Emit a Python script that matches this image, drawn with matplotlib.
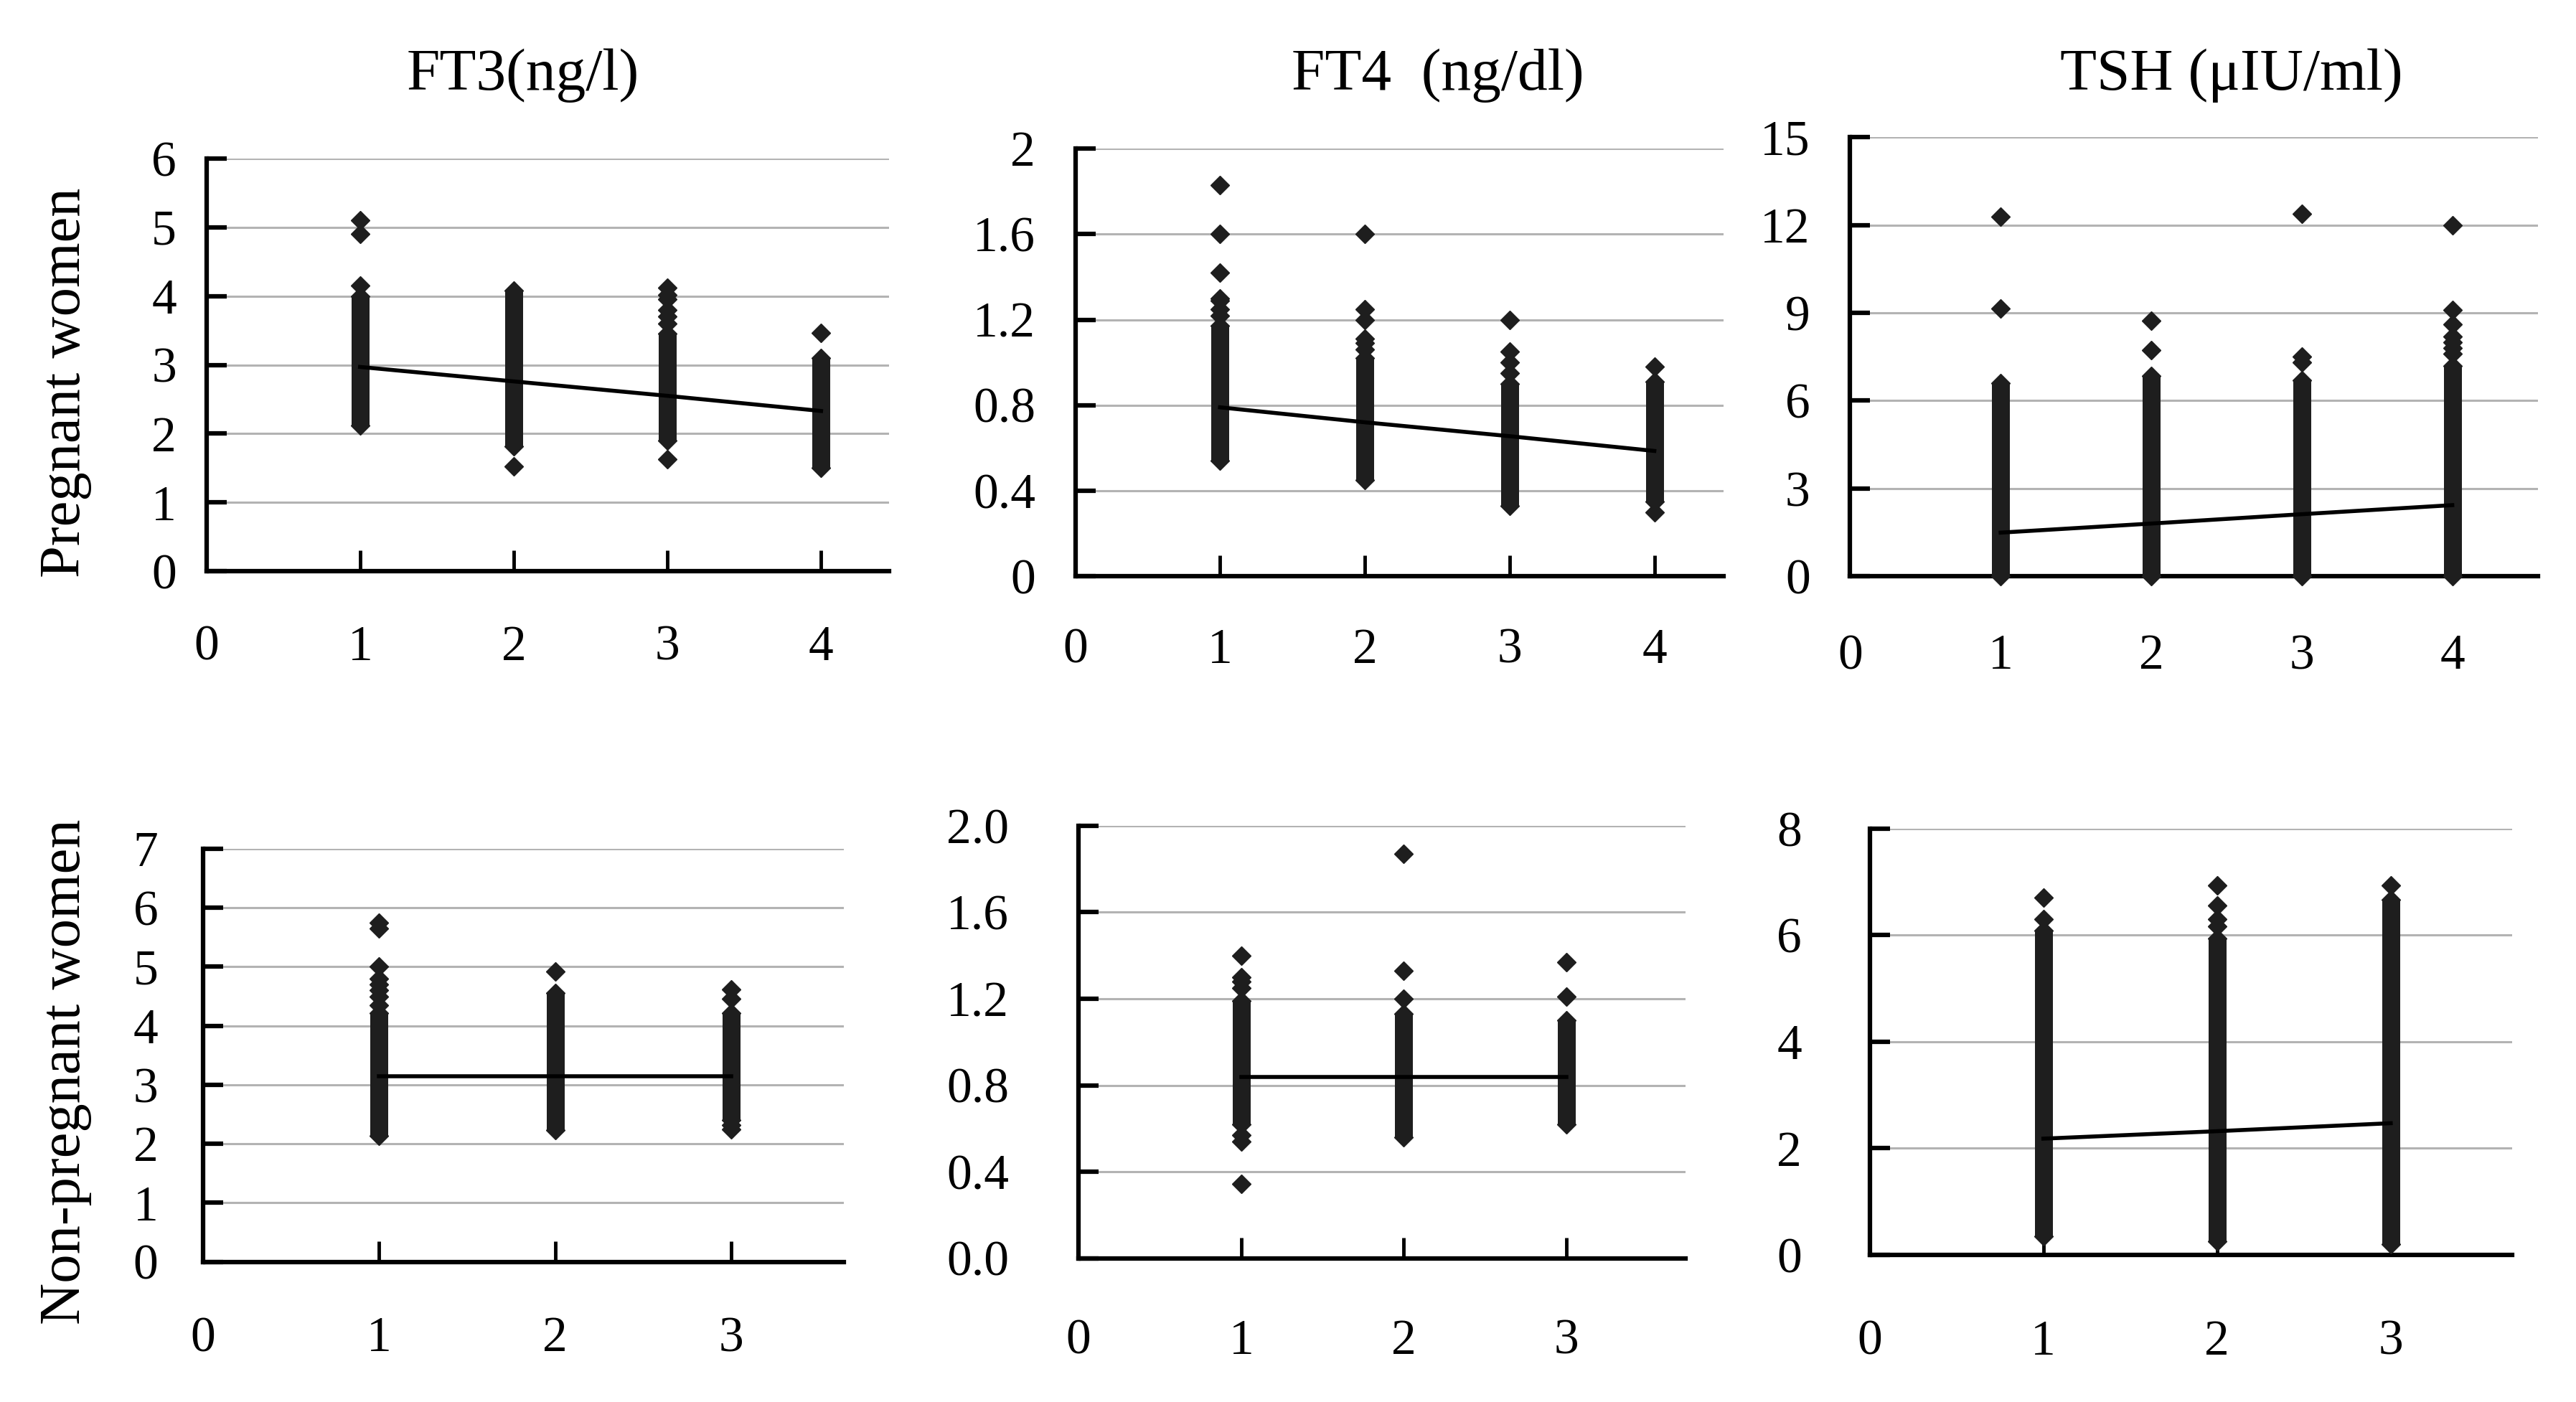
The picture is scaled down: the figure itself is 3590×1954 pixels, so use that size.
import matplotlib
matplotlib.use("Agg")
import matplotlib.pyplot as plt

plt.rcParams['font.family'] = ['Liberation Serif', 'DejaVu Serif']

# ---- data ----
# each column: dense body (low..high), extra single points, fitted line value per group

ft3_preg_x = [1, 2, 3, 4]
ft3_preg_low = [2.12, 1.82, 1.90, 1.50]
ft3_preg_high = [4.00, 4.08, 3.45, 3.10]
ft3_preg_extra = [[4.15, 4.90, 5.10], [1.53], [1.63, 3.60, 3.70, 3.80, 3.95, 4.02, 4.12], [3.46]]
ft3_preg_trend = [2.97, 2.76, 2.55, 2.33]

ft4_preg_x = [1, 2, 3, 4]
ft4_preg_low = [0.54, 0.45, 0.33, 0.35]
ft4_preg_high = [1.17, 1.02, 0.90, 0.91]
ft4_preg_extra = [[1.22, 1.25, 1.29, 1.30, 1.42, 1.60, 1.83],
                  [1.06, 1.09, 1.11, 1.20, 1.25, 1.60],
                  [0.95, 1.00, 1.05, 1.20],
                  [0.30, 0.98]]
ft4_preg_trend = [0.79, 0.72, 0.655, 0.586]

tsh_preg_x = [1, 2, 3, 4]
tsh_preg_low = [0.0, 0.0, 0.0, 0.0]
tsh_preg_high = [6.6, 6.85, 6.7, 7.2]
tsh_preg_extra = [[9.15, 12.3], [7.72, 8.74], [7.3, 7.5, 12.4], [7.6, 7.8, 8.0, 8.2, 8.6, 9.1, 12.0]]
tsh_preg_trend = [1.49, 1.80, 2.12, 2.43]

ft3_non_x = [1, 2, 3]
ft3_non_low = [2.13, 2.23, 2.40]
ft3_non_high = [4.22, 4.56, 4.22]
ft3_non_extra = [[4.35, 4.5, 4.6, 4.7, 4.8, 5.0, 5.65, 5.75], [4.92], [2.25, 2.32, 4.46, 4.62]]
ft3_non_trend = [3.15, 3.15, 3.15]

ft4_non_x = [1, 2, 3]
ft4_non_low = [0.62, 0.56, 0.62]
ft4_non_high = [1.19, 1.13, 1.10]
ft4_non_extra = [[0.345, 0.54, 0.57, 1.25, 1.28, 1.30, 1.40], [1.20, 1.33, 1.87], [1.21, 1.37]]
ft4_non_trend = [0.84, 0.84, 0.84]

tsh_non_x = [1, 2, 3]
tsh_non_low = [0.35, 0.25, 0.20]
tsh_non_high = [6.08, 5.94, 6.67]
tsh_non_extra = [[6.3, 6.71], [6.16, 6.3, 6.56, 6.93], [6.93]]
tsh_non_trend = [2.18, 2.32, 2.47]

titles = ['FT3(ng/l)', 'FT4  (ng/dl)', 'TSH (μIU/ml)']
row_labels = ['Pregnant women', 'Non-pregnant women']

ft3_preg_yticks = [0, 1, 2, 3, 4, 5, 6]
ft3_preg_ylabels = ['0', '1', '2', '3', '4', '5', '6']
ft4_preg_yticks = [0, 0.4, 0.8, 1.2, 1.6, 2.0]
ft4_preg_ylabels = ['0', '0.4', '0.8', '1.2', '1.6', '2']
tsh_preg_yticks = [0, 3, 6, 9, 12, 15]
tsh_preg_ylabels = ['0', '3', '6', '9', '12', '15']
ft3_non_yticks = [0, 1, 2, 3, 4, 5, 6, 7]
ft3_non_ylabels = ['0', '1', '2', '3', '4', '5', '6', '7']
ft4_non_yticks = [0, 0.4, 0.8, 1.2, 1.6, 2.0]
ft4_non_ylabels = ['0.0', '0.4', '0.8', '1.2', '1.6', '2.0']
tsh_non_yticks = [0, 2, 4, 6, 8]
tsh_non_ylabels = ['0', '2', '4', '6', '8']

DOT = '#1e1e1e'
MS = 13.5      # diamond marker size
COL_LW = 18    # width of the dense column
TICK_FS = 50


def draw_panel(ax, x, low, high, extra, trend, yticks, ylabels, xmax, ypad, xpad):
    ax.vlines(x, low, high, color=DOT, lw=COL_LW, capstyle='butt', zorder=3)
    ax.plot(x, low, ls='none', marker='D', ms=MS, color=DOT, zorder=3, clip_on=False)
    ax.plot(x, high, ls='none', marker='D', ms=MS, color=DOT, zorder=3, clip_on=False)
    for xi, vals in zip(x, extra):
        ax.plot([xi] * len(vals), vals, ls='none', marker='D', ms=MS, color=DOT,
                zorder=3, clip_on=False)
    ax.plot(x, trend, color='black', lw=4, zorder=4)

    ax.set_xlim(0, xmax)
    ax.set_ylim(0, yticks[-1])
    ax.set_yticks(yticks)
    ax.set_yticklabels(ylabels)
    ax.set_xticks(range(len(x) + 1))
    ax.set_xticklabels([str(i) for i in range(len(x) + 1)])
    for s in ['top', 'right']:
        ax.spines[s].set_visible(False)
    for s in ['left', 'bottom']:
        ax.spines[s].set_linewidth(4.5)
    ax.tick_params(axis='y', direction='in', length=20, width=4.5, pad=ypad, labelsize=TICK_FS)
    ax.tick_params(axis='x', direction='in', length=21, width=3.5, pad=xpad, labelsize=TICK_FS)
    ax.yaxis.grid(True, color='#b3b3b3', lw=2.2)
    ax.set_axisbelow(True)


fig = plt.figure(figsize=(35.91, 19.54), dpi=100)

# [left, bottom, width, height], xmax, ytick pad, xtick pad
layout = [
    ([0.0801, 0.5925, 0.2648, 0.2945], 4.44, 30, 54),
    ([0.4173, 0.5890, 0.2517, 0.3050], 4.48, 40, 52),
    ([0.7180, 0.5890, 0.2670, 0.3130], 4.57, 40, 58),
    ([0.0788, 0.1000, 0.2488, 0.2946], 3.64, 45, 55),
    ([0.4186, 0.1025, 0.2354, 0.3085], 3.73, 70, 61),
    ([0.7256, 0.1050, 0.2494, 0.3040], 3.70, 68, 65),
]

panels = [
    (ft3_preg_x, ft3_preg_low, ft3_preg_high, ft3_preg_extra, ft3_preg_trend, ft3_preg_yticks, ft3_preg_ylabels),
    (ft4_preg_x, ft4_preg_low, ft4_preg_high, ft4_preg_extra, ft4_preg_trend, ft4_preg_yticks, ft4_preg_ylabels),
    (tsh_preg_x, tsh_preg_low, tsh_preg_high, tsh_preg_extra, tsh_preg_trend, tsh_preg_yticks, tsh_preg_ylabels),
    (ft3_non_x, ft3_non_low, ft3_non_high, ft3_non_extra, ft3_non_trend, ft3_non_yticks, ft3_non_ylabels),
    (ft4_non_x, ft4_non_low, ft4_non_high, ft4_non_extra, ft4_non_trend, ft4_non_yticks, ft4_non_ylabels),
    (tsh_non_x, tsh_non_low, tsh_non_high, tsh_non_extra, tsh_non_trend, tsh_non_yticks, tsh_non_ylabels),
]

for (rect, xmax, ypad, xpad), p in zip(layout, panels):
    ax = fig.add_axes(rect)
    draw_panel(ax, *p, xmax=xmax, ypad=ypad, xpad=xpad)

# column titles
for tx, t in zip([0.203, 0.558, 0.866], titles):
    fig.text(tx, 0.946, t, ha='center', va='center', fontsize=60)

# row labels
fig.text(0.0256, 0.727, row_labels[0], rotation=90, ha='center', va='center', fontsize=58)
fig.text(0.0256, 0.2356, row_labels[1], rotation=90, ha='center', va='center', fontsize=58)

fig.savefig('out.png', dpi=100, facecolor='white')
